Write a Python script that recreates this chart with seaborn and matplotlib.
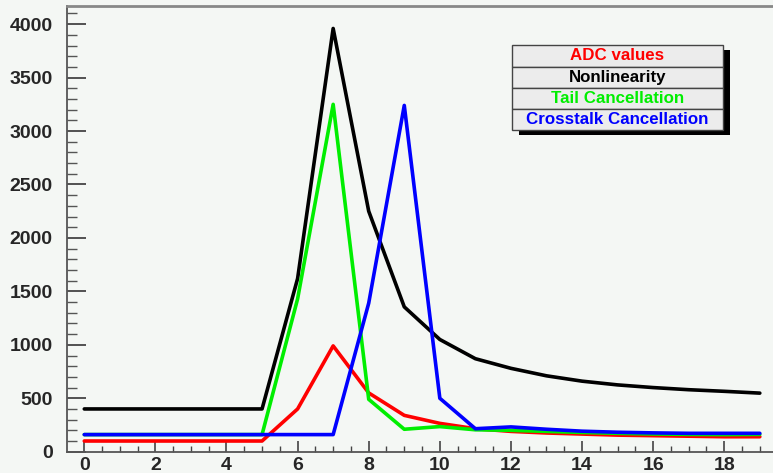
import numpy as np
import pandas as pd
import matplotlib
matplotlib.use("Agg")
import matplotlib.pyplot as plt
import seaborn as sns
from matplotlib.patches import Rectangle

x = list(range(20))
adc = [100, 100, 100, 100, 100, 100, 400, 990, 550, 340, 265, 215, 190, 175, 165, 155, 150, 145, 140, 140]
nonlin = [400, 400, 400, 400, 400, 400, 1620, 3960, 2250, 1355, 1050, 870, 780, 710, 660, 625, 600, 580, 565, 548]
tail = [160, 160, 160, 160, 160, 160, 1430, 3250, 490, 210, 235, 205, 200, 190, 180, 172, 166, 162, 160, 162]
xtalk = [160, 160, 160, 160, 160, 160, 160, 160, 1390, 3240, 500, 215, 232, 210, 192, 182, 176, 172, 172, 172]

labels = ["ADC values", "Nonlinearity", "Tail Cancellation", "Crosstalk Cancellation"]
colors = ["#ff0000", "#000000", "#00ee00", "#0000ff"]

df = pd.concat([
    pd.DataFrame({"x": x, "y": v, "series": lab})
    for v, lab in zip([adc, nonlin, tail, xtalk], labels)
])

sns.set_style("white")
plt.rcParams["font.family"] = ["Liberation Sans", "DejaVu Sans"]
bg = "#f4f7f4"
W, H = 773, 473
fig = plt.figure(figsize=(W/100, H/100), dpi=100, facecolor=bg)
ax_l, ax_r, ax_t, ax_b = 66.5, 777.6, 6, 451.7
ax = fig.add_axes([ax_l/W, 1-ax_b/H, (ax_r-ax_l)/W, (ax_b-ax_t)/H])
ax.set_facecolor(bg)

sns.lineplot(data=df, x="x", y="y", hue="series", palette=dict(zip(labels, colors)),
             hue_order=labels, linewidth=2.6, legend=False, ax=ax)

ax.set_xlim(-0.5, 19.5)
ax.set_ylim(0, 4170)
ax.set_xlabel("")
ax.set_ylabel("")
ax.set_xticks(range(0, 19, 2))
ax.set_xticks(np.arange(0, 19.01, 0.5), minor=True)
ax.set_yticks(range(0, 4001, 500))
ax.set_yticks(range(0, 4101, 100), minor=True)
ax.tick_params(axis="x", which="major", direction="in", length=8, width=1.2, color="#444444",
               labelsize=14, pad=4)
ax.tick_params(axis="x", which="minor", direction="in", length=4, width=1.0, color="#444444")
ax.tick_params(axis="y", which="major", direction="in", length=14, width=1.3, color="#444444",
               labelsize=14, pad=10)
ax.tick_params(axis="y", which="minor", direction="in", length=7, width=1.0, color="#555555")
ax.tick_params(axis="x", which="both", top=False, bottom=True)
ax.tick_params(axis="y", which="both", left=True, right=False)
for lab in ax.get_xticklabels() + ax.get_yticklabels():
    lab.set_fontweight("bold")
for s in ["left", "bottom", "top"]:
    ax.spines[s].set_color("#555555")
    ax.spines[s].set_linewidth(1.3)
ax.spines["top"].set_color("#888888")
ax.spines["top"].set_linewidth(2.0)
ax.spines["right"].set_visible(False)

# legend (ROOT-style stacked pave)
def fx(px):
    return px / W
def fy(py):
    return 1 - py / H
left, right = 512, 723
rows = [45, 67, 88, 109, 130]
for i, (lab, col) in enumerate(zip(labels, colors)):
    top, bot = rows[i], rows[i+1]
    fig.add_artist(Rectangle((fx(left+7), fy(bot+5)), fx(right-left), (bot-top)/H,
                             facecolor="black", edgecolor="none", transform=fig.transFigure, zorder=5))
    fig.add_artist(Rectangle((fx(left), fy(bot)), fx(right-left), (bot-top)/H,
                             facecolor="#ececec", edgecolor="#444444", linewidth=1.0,
                             transform=fig.transFigure, zorder=6))
    fig.text(fx((left+right)/2), fy((top+bot)/2), lab, color=col, fontsize=12.2,
             fontweight="bold", ha="center", va="center", zorder=7)

fig.savefig("out.png", dpi=100, facecolor=bg)
